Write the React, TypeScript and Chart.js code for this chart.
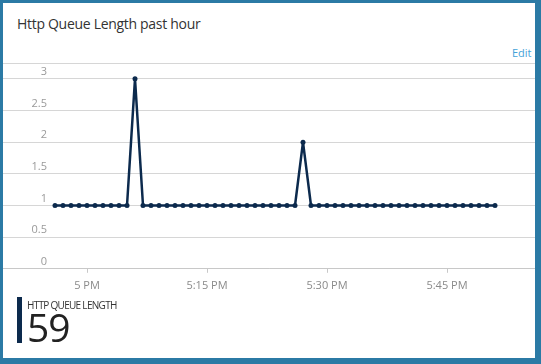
import React, { useEffect, useRef } from "react";
import { Chart, registerables } from "chart.js";

Chart.register(...registerables);

// Sample times (one per minute) and HTTP queue length values
const timeLabels: string[] = [
  "4:56 PM", "4:57 PM", "4:58 PM", "4:59 PM", "5:00 PM", "5:01 PM", "5:02 PM", "5:03 PM",
  "5:04 PM", "5:05 PM", "5:06 PM", "5:07 PM", "5:08 PM", "5:09 PM", "5:10 PM", "5:11 PM",
  "5:12 PM", "5:13 PM", "5:14 PM", "5:15 PM", "5:16 PM", "5:17 PM", "5:18 PM", "5:19 PM",
  "5:20 PM", "5:21 PM", "5:22 PM", "5:23 PM", "5:24 PM", "5:25 PM", "5:26 PM", "5:27 PM",
  "5:28 PM", "5:29 PM", "5:30 PM", "5:31 PM", "5:32 PM", "5:33 PM", "5:34 PM", "5:35 PM",
  "5:36 PM", "5:37 PM", "5:38 PM", "5:39 PM", "5:40 PM", "5:41 PM", "5:42 PM", "5:43 PM",
  "5:44 PM", "5:45 PM", "5:46 PM", "5:47 PM", "5:48 PM", "5:49 PM", "5:50 PM", "5:51 PM",
];

const queueLength: number[] = [
  1, 1, 1, 1, 1, 1, 1, 1,
  1, 1, 3, 1, 1, 1, 1, 1,
  1, 1, 1, 1, 1, 1, 1, 1,
  1, 1, 1, 1, 1, 1, 1, 2,
  1, 1, 1, 1, 1, 1, 1, 1,
  1, 1, 1, 1, 1, 1, 1, 1,
  1, 1, 1, 1, 1, 1, 1, 1,
];

const xTickLabels: string[] = ["5 PM", "5:15 PM", "5:30 PM", "5:45 PM"];
const yTickValues: number[] = [0, 0.5, 1, 1.5, 2, 2.5, 3];
const yTopLine = 3.25;
const xRangeStart = "4:49:30 PM";
const xRangeEnd = "5:56 PM";

const seriesName = "HTTP QUEUE LENGTH";
const totalValue = "59";
const chartTitle = "Http Queue Length past hour";

// minutes relative to 5:00 PM
function toMinutes(label: string): number {
  const m = label.match(/(\d+)(?::(\d+))?(?::(\d+))?\s*(AM|PM)/);
  if (!m) return 0;
  let h = parseInt(m[1], 10);
  const min = m[2] ? parseInt(m[2], 10) : 0;
  const sec = m[3] ? parseInt(m[3], 10) : 0;
  if (m[4] === "PM" && h !== 12) h += 12;
  return (h - 17) * 60 + min + sec / 60;
}

export default function App() {
  const canvasRef = useRef<HTMLCanvasElement | null>(null);

  useEffect(() => {
    document.body.style.margin = "0";
    const canvas = canvasRef.current;
    if (!canvas) return;
    Chart.defaults.font.family = "'Open Sans', sans-serif";

    const points = timeLabels.map((t, i) => ({ x: toMinutes(t), y: queueLength[i] }));
    const xTicks = xTickLabels.map((t) => toMinutes(t));

    const chart = new Chart(canvas, {
      type: "line",
      data: {
        datasets: [
          {
            label: seriesName,
            data: points,
            borderColor: "#0c2a4d",
            backgroundColor: "#0c2a4d",
            borderWidth: 2.5,
            borderJoinStyle: "round",
            pointRadius: 2.5,
            pointBackgroundColor: "#0c2a4d",
            pointBorderWidth: 0,
            tension: 0,
          },
        ],
      },
      options: {
        animation: false,
        responsive: false,
        maintainAspectRatio: false,
        layout: { autoPadding: false, padding: { left: 0, right: 0, top: 8, bottom: 0 } },
        plugins: {
          legend: { display: false },
          tooltip: { enabled: false },
        },
        scales: {
          x: {
            type: "linear",
            min: toMinutes(xRangeStart),
            max: toMinutes(xRangeEnd),
            afterBuildTicks: (scale: any) => {
              scale.ticks = xTicks.map((v) => ({ value: v }));
            },
            ticks: {
              autoSkip: false,
              maxRotation: 0,
              color: "#8a8a8a",
              font: { size: 11 },
              padding: 6,
              callback: (v: any) => {
                const i = xTicks.indexOf(Number(v));
                return i >= 0 ? xTickLabels[i] : "";
              },
            },
            grid: {
              drawOnChartArea: false,
              drawTicks: true,
              tickLength: 4,
              color: "#c8c8c8",
            },
            border: { display: true, color: "#c8c8c8", width: 1 },
          },
          y: {
            type: "linear",
            min: 0,
            max: yTopLine,
            afterBuildTicks: (scale: any) => {
              scale.ticks = [...yTickValues, yTopLine].map((v) => ({ value: v }));
            },
            ticks: {
              mirror: true,
              crossAlign: "far",
              padding: 0,
              labelOffset: -7,
              color: (ctx: any) =>
                yTickValues.includes(ctx.tick?.value) ? "#9a9a9a" : "rgba(0,0,0,0)",
              font: { size: 11 },
              // the top line carries an invisible spacer label that sets the label column width
              callback: (v: any) => (yTickValues.includes(Number(v)) ? String(v) : "0000000"),
            },
            grid: {
              drawTicks: false,
              color: "#d6d6d6",
              lineWidth: 1,
            },
            border: { display: false },
          },
        },
      },
    });
    return () => chart.destroy();
  }, []);

  return (
    <div
      style={{
        position: "fixed",
        left: 0,
        top: 0,
        width: 541,
        height: 364,
        background: "#2b7aa5",
        overflow: "hidden",
        fontFamily: "'Open Sans', sans-serif",
      }}
    >
      <div
        style={{
          position: "absolute",
          left: 3,
          top: 3,
          width: 532,
          height: 355,
          background: "#ffffff",
        }}
      />
      <div
        style={{
          position: "absolute",
          left: 17,
          top: 14,
          fontSize: 14,
          lineHeight: "20px",
          color: "#333",
          whiteSpace: "nowrap",
          letterSpacing: "-0.3px",
        }}
      >
        {chartTitle}
      </div>
      <div
        style={{
          position: "absolute",
          left: 512,
          top: 45,
          fontSize: 11,
          lineHeight: "16px",
          color: "#45a2d8",
        }}
      >
        Edit
      </div>
      <canvas
        ref={canvasRef}
        width={532}
        height={243}
        style={{ position: "absolute", left: 3, top: 55, width: 532, height: 243 }}
      />
      <div
        style={{
          position: "absolute",
          left: 17,
          top: 297,
          width: 5,
          height: 46,
          background: "#0c2a4d",
        }}
      />
      <div
        style={{
          position: "absolute",
          left: 27,
          top: 299,
          fontSize: 10,
          lineHeight: "12px",
          color: "#333",
          whiteSpace: "nowrap",
          letterSpacing: "-0.7px",
        }}
      >
        {seriesName}
      </div>
      <div
        style={{
          position: "absolute",
          left: 27,
          top: 305,
          fontSize: 39,
          lineHeight: "44px",
          color: "#222",
          whiteSpace: "nowrap",
          letterSpacing: "-1px",
        }}
      >
        {totalValue}
      </div>
    </div>
  );
}
